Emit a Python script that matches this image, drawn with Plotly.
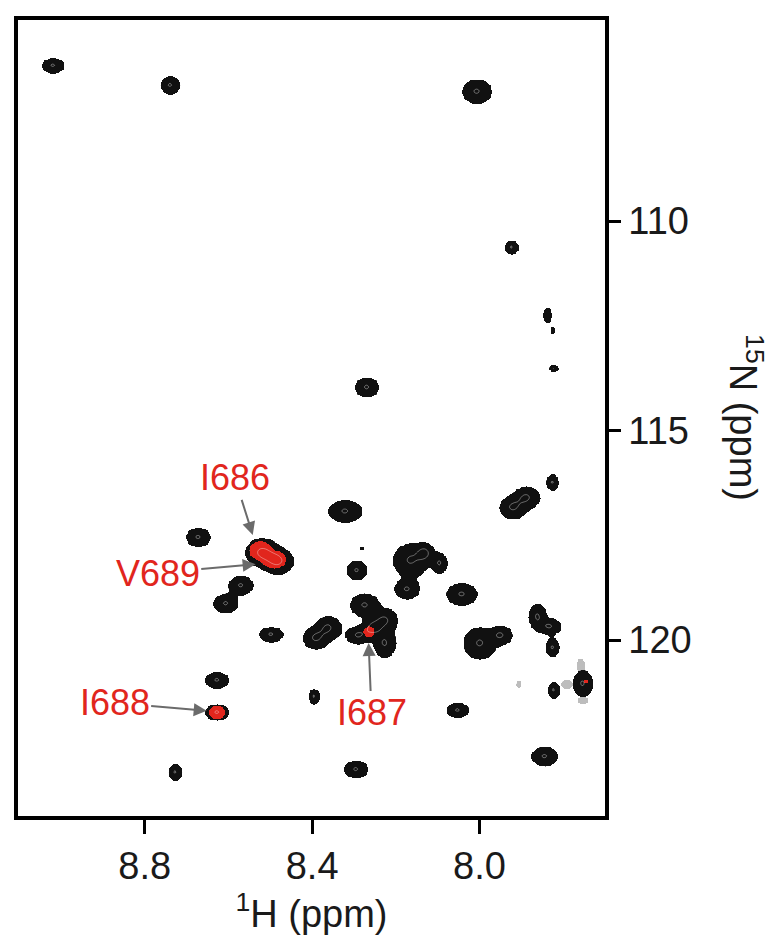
import numpy as np
import plotly.graph_objects as go

# ---------------- data ----------------
# Black cross-peaks: 1H shift, 15N shift, contour width along 1H, contour width along 15N (all ppm)
black_h = [9.020, 8.740, 8.007, 7.924, 7.838, 7.826, 7.823, 8.270, 7.826, 7.921,
           7.888, 8.322, 8.673, 8.521, 8.482, 8.571, 8.607, 8.499, 8.628, 8.628,
           8.728, 8.282, 8.294, 8.165, 8.131, 8.096, 8.174, 8.043, 8.275, 8.362,
           8.392, 8.291, 8.227, 8.227, 8.256, 8.000, 7.950, 7.862, 7.833, 7.826,
           7.823, 7.754, 8.053, 7.845, 8.296, 8.396]
black_n = [106.28, 106.75, 106.90, 110.62, 112.24, 112.60, 113.51, 113.96, 116.23, 116.83,
           116.59, 116.92, 117.54, 117.90, 118.11, 118.69, 119.12, 119.86, 120.95, 121.72,
           123.15, 117.80, 118.33, 118.09, 117.92, 118.16, 118.78, 118.90, 119.16, 119.70,
           119.95, 119.88, 119.52, 120.07, 119.71, 120.07, 119.88, 119.43, 119.67, 120.17,
           121.19, 121.03, 121.67, 122.77, 123.08, 121.34]
black_wh = [0.054, 0.048, 0.071, 0.035, 0.021, 0.009, 0.023, 0.059, 0.029, 0.066,
            0.064, 0.082, 0.059, 0.080, 0.075, 0.059, 0.059, 0.059, 0.059, 0.059,
            0.032, 0.008, 0.050, 0.085, 0.046, 0.037, 0.061, 0.075, 0.071, 0.062,
            0.062, 0.060, 0.064, 0.054, 0.054, 0.078, 0.056, 0.044, 0.056, 0.032,
            0.029, 0.048, 0.054, 0.064, 0.059, 0.027]
black_wn = [0.37, 0.43, 0.59, 0.32, 0.37, 0.19, 0.16, 0.48, 0.40, 0.56,
            0.54, 0.54, 0.46, 0.69, 0.64, 0.46, 0.46, 0.37, 0.40, 0.40,
            0.40, 0.08, 0.46, 0.82, 0.47, 0.50, 0.48, 0.54, 0.56, 0.58,
            0.54, 0.44, 0.58, 0.70, 0.50, 0.78, 0.46, 0.62, 0.40, 0.46,
            0.40, 0.64, 0.37, 0.46, 0.43, 0.37]

# Red (highlighted) cross-peaks
red_h = [8.525, 8.492, 8.628, 8.265, 7.747]
red_n = [117.85, 118.07, 121.72, 119.79, 120.98]
red_wh = [0.054, 0.058, 0.038, 0.026, 0.013]
red_wn = [0.43, 0.42, 0.31, 0.26, 0.05]

# Grey (weak) cross-peaks
grey_h = [7.759, 7.792, 7.754, 7.907]
grey_n = [120.60, 121.05, 121.43, 121.05]
grey_wh = [0.021, 0.026, 0.026, 0.011]
grey_wn = [0.32, 0.21, 0.16, 0.16]

# Residue labels: label position and arrow target (ppm)
label_text = ["I686", "V689", "I688", "I687"]
label_h = [8.585, 8.769, 8.872, 8.258]
label_n = [116.13, 118.40, 121.50, 121.74]
target_h = [8.542, 8.535, 8.652, 8.265]
target_n = [117.49, 118.19, 121.69, 120.07]

x_ticks = [8.8, 8.4, 8.0]
y_ticks = [110, 115, 120]

H_RANGE = [9.103, 7.700]
N_RANGE = [124.2, 105.2]

RED = "#e1261d"
GREY = "#bdbdbd"
ARROW = "#6b6b6b"
FONT = "Liberation Sans, Arial, sans-serif"

# ---------------- spectrum surface ----------------
gx = np.arange(7.68, 9.12, 0.004)
gy = np.arange(105.0, 124.4, 0.04)
GX, GY = np.meshgrid(gx, gy)
LEVEL = 0.2
K = np.sqrt(2 * np.log(1 / LEVEL))


def spectrum(hs, ns, whs, wns):
    z = np.zeros_like(GX)
    for h, n, wh, wn in zip(hs, ns, whs, wns):
        sx = wh / 2 / K
        sy = wn / 2 / K
        z += np.exp(-0.5 * (((GX - h) / sx) ** 2 + ((GY - n) / sy) ** 2))
    return z.astype(np.float32)


def layer(z, color):
    return go.Heatmap(
        x=gx, y=gy, z=z, zmin=0, zmax=1, zsmooth="best", showscale=False,
        hoverinfo="skip",
        colorscale=[[0, "rgba(255,255,255,0)"], [LEVEL - 0.001, "rgba(255,255,255,0)"],
                    [LEVEL, color], [1, color]],
    )


zb = spectrum(black_h, black_n, black_wh, black_wn)
zr = spectrum(red_h, red_n, red_wh, red_wn)
zg = spectrum(grey_h, grey_n, grey_wh, grey_wn)

fig = go.Figure()
fig.add_trace(layer(zg, GREY))
fig.add_trace(layer(zb, "#111111"))
fig.add_trace(go.Contour(
    x=gx, y=gy, z=zb, showscale=False, hoverinfo="skip",
    contours=dict(coloring="none", start=0.95, end=0.95, size=1),
    line=dict(color="rgba(255,255,255,0.75)", width=0.5),
))
fig.add_trace(layer(zr, RED))

for t, lh, ln, th, tn in zip(label_text, label_h, label_n, target_h, target_n):
    fig.add_annotation(
        x=th, y=tn, ax=lh, ay=ln, xref="x", yref="y", axref="x", ayref="y",
        text=t, showarrow=True, arrowhead=2, arrowsize=1.3, arrowwidth=2,
        arrowcolor=ARROW, standoff=0,
        font=dict(family=FONT, size=36, color=RED),
    )

fig.add_annotation(
    x=1.24, y=0.50, xref="paper", yref="paper", text="<sup>15</sup>N (ppm)",
    textangle=90, showarrow=False, xanchor="center", yanchor="middle",
    font=dict(family=FONT, size=38, color="#1a1a1a"),
)

fig.update_layout(
    width=780, height=936, margin=dict(l=10, r=183, t=12, b=128, autoexpand=False),
    plot_bgcolor="white", paper_bgcolor="white", showlegend=False,
    font=dict(family=FONT, color="#1a1a1a"),
)
fig.update_xaxes(
    range=H_RANGE, tickvals=x_ticks, ticktext=[f"{v:.1f}" for v in x_ticks],
    ticks="outside", ticklen=14, tickwidth=2.5, tickcolor="black",
    showline=True, linewidth=3.5, linecolor="black", mirror=True,
    showgrid=False, zeroline=False, tickfont=dict(size=38), automargin=False,
    title=dict(text="<sup>1</sup>H (ppm)", font=dict(size=38), standoff=2),
)
fig.update_yaxes(
    range=N_RANGE, side="right", tickvals=y_ticks, ticktext=[str(v) for v in y_ticks],
    ticks="outside", ticklen=12, tickwidth=2.5, tickcolor="black",
    showline=True, linewidth=3.5, linecolor="black", mirror=True,
    showgrid=False, zeroline=False, tickfont=dict(size=38), automargin=False,
)

fig.write_html("out.html")
